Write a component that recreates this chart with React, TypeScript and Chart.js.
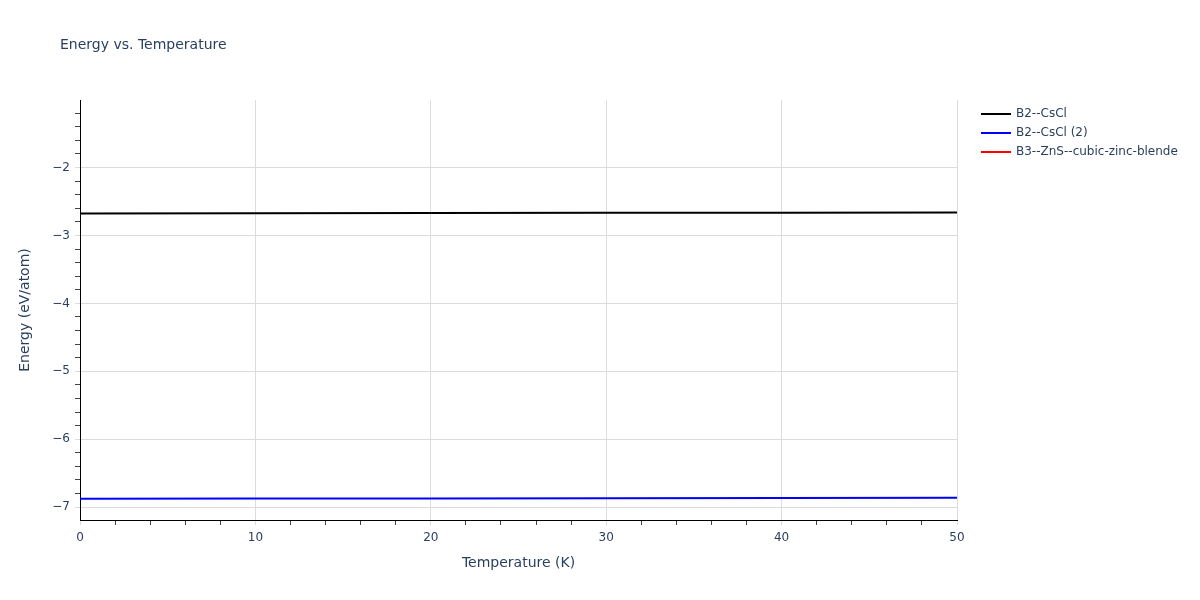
import { useEffect, useRef } from "react";
import Chart from "chart.js/auto";

const temperatures = [0, 10, 20, 30, 40, 50];
const energyCsCl = [-2.676, -2.673, -2.67, -2.667, -2.664, -2.66];
const energyCsCl2 = [-6.878, -6.875, -6.872, -6.868, -6.865, -6.861];
const energyZnS: number[] = [];

const seriesNames = ["B2--CsCl", "B2--CsCl (2)", "B3--ZnS--cubic-zinc-blende"];
const seriesColors = ["#000000", "#0000ff", "#ff0000"];

const FONT = "'DejaVu Sans', Verdana, Arial, sans-serif";
const TEXT = "#2a3f5f";
const GRID = "#dcdcdc";

const isMajor = (v: number, step: number) =>
  Math.abs(v / step - Math.round(v / step)) < 1e-6;

// titles and legend are drawn by hand to sit where the plotly layout puts them
const decorations = {
  id: "decorations",
  afterDraw(chart: Chart) {
    const { ctx, chartArea } = chart;
    ctx.save();
    ctx.fillStyle = TEXT;
    ctx.textBaseline = "middle";

    ctx.font = `14px ${FONT}`;
    ctx.textAlign = "left";
    ctx.fillText("Energy vs. Temperature", 60, 45);

    ctx.textAlign = "center";
    ctx.fillText("Temperature (K)", (chartArea.left + chartArea.right) / 2, 563);
    ctx.save();
    ctx.translate(25, (chartArea.top + chartArea.bottom) / 2);
    ctx.rotate(-Math.PI / 2);
    ctx.fillText("Energy (eV/atom)", 0, 0);
    ctx.restore();

    ctx.font = `12px ${FONT}`;
    ctx.textAlign = "left";
    seriesNames.forEach((name, i) => {
      const y = 114 + i * 19;
      ctx.strokeStyle = seriesColors[i];
      ctx.lineWidth = 2;
      ctx.beginPath();
      ctx.moveTo(981, y);
      ctx.lineTo(1011, y);
      ctx.stroke();
      ctx.fillText(name, 1016, y);
    });
    ctx.restore();
  },
};

export default function App() {
  const chartRef = useRef<HTMLCanvasElement>(null);
  const chartInstance = useRef<Chart | null>(null);

  useEffect(() => {
    const ctx = chartRef.current?.getContext("2d");
    if (!ctx) return;

    if (chartInstance.current) {
      chartInstance.current.destroy();
    }

    const toPoints = (vals: number[]) =>
      vals.map((y, i) => ({ x: temperatures[i], y }));

    chartInstance.current = new Chart(ctx, {
      type: "line",
      data: {
        datasets: [energyCsCl, energyCsCl2, energyZnS].map((vals, i) => ({
          label: seriesNames[i],
          data: toPoints(vals),
          borderColor: seriesColors[i],
          backgroundColor: seriesColors[i],
          borderWidth: 2,
          pointRadius: 0,
          tension: 0,
        })),
      },
      plugins: [decorations],
      options: {
        responsive: false,
        animation: false,
        layout: { padding: { left: 0, right: 243, top: 100, bottom: 0 } },
        plugins: {
          legend: { display: false },
          title: { display: false },
          tooltip: { enabled: false },
        },
        scales: {
          x: {
            type: "linear",
            min: 0,
            max: 50,
            afterFit: (scale: any) => {
              scale.height = 80;
            },
            border: { color: "#000000", width: 1 },
            grid: {
              color: (c: any) => (isMajor(c.tick.value, 10) ? GRID : "rgba(0,0,0,0)"),
              tickColor: (c: any) => (isMajor(c.tick.value, 10) ? GRID : "#444444"),
              tickLength: 5,
            },
            ticks: {
              stepSize: 2,
              autoSkip: false,
              maxRotation: 0,
              includeBounds: false,
              padding: 6,
              color: TEXT,
              font: { family: FONT, size: 12 },
              callback: (v: any) => (isMajor(Number(v), 10) ? String(v) : ""),
            },
          },
          y: {
            type: "linear",
            min: -7.19,
            max: -1.005,
            afterFit: (scale: any) => {
              scale.width = 80;
            },
            border: { color: "#000000", width: 1 },
            grid: {
              color: (c: any) => (isMajor(c.tick.value, 1) ? GRID : "rgba(0,0,0,0)"),
              tickColor: (c: any) => (isMajor(c.tick.value, 1) ? GRID : "#444444"),
              tickLength: 5,
            },
            ticks: {
              stepSize: 0.2,
              autoSkip: false,
              includeBounds: false,
              padding: 5,
              color: TEXT,
              font: { family: FONT, size: 12 },
              callback: (v: any) => {
                const n = Number(v);
                if (!isMajor(n, 1)) return "";
                const r = Math.round(n);
                return r < 0 ? "\u2212" + Math.abs(r) : String(r);
              },
            },
          },
        },
      },
    });

    return () => {
      chartInstance.current?.destroy();
    };
  }, []);

  return (
    <div style={{ position: "fixed", left: 0, top: 0, width: 1200, height: 600, background: "#fff" }}>
      <canvas ref={chartRef} width={1200} height={600} />
    </div>
  );
}
